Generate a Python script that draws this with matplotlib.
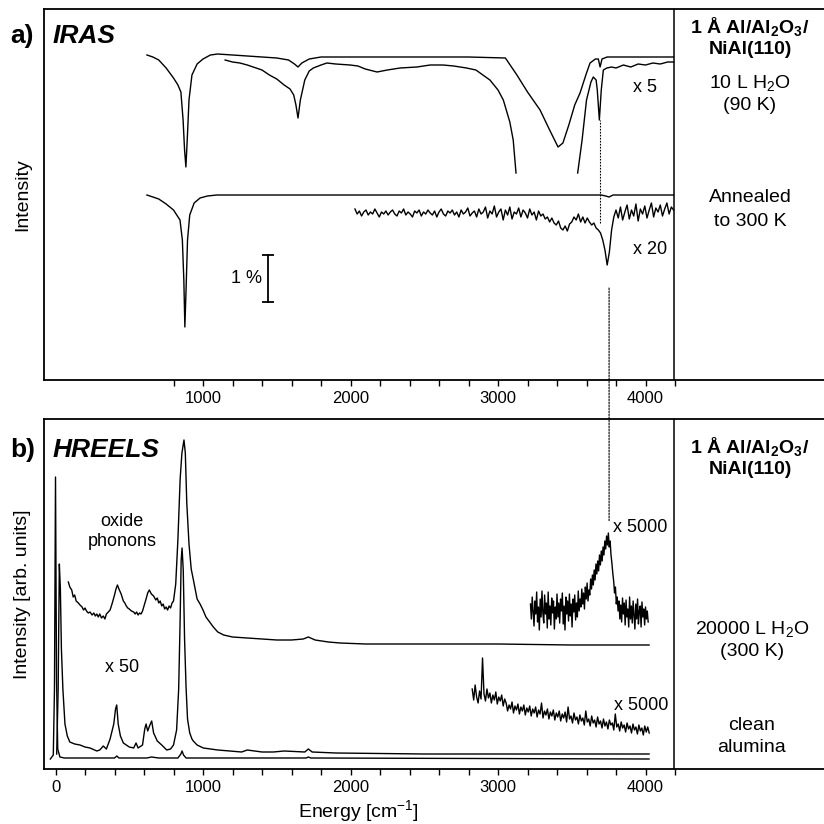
import numpy as np
import matplotlib
matplotlib.use("Agg")
import matplotlib.pyplot as plt
from matplotlib.patches import ConnectionPatch

plt.rcParams['font.family'] = ['Liberation Sans', 'DejaVu Sans']
plt.rcParams['mathtext.fontset'] = 'custom'
plt.rcParams['mathtext.rm'] = 'Liberation Sans'
plt.rcParams['mathtext.bf'] = 'Liberation Sans:bold'

# ---- a) IRAS, intensity in arbitrary units (offset traces) ----
# 10 L H2O at 90 K, as measured
iras_h2o_E = [620, 660, 700, 750, 800, 830, 850, 865, 875, 884, 893, 905, 925, 960, 1000,
              1050, 1100, 1200, 1300, 1400, 1500, 1580, 1620, 1644, 1670, 1720, 1800, 2000,
              2400, 2800, 3050, 3128, 3200, 3285, 3350, 3407, 3440, 3480, 3520, 3556, 3600,
              3624, 3660, 3680, 3692, 3705, 3740, 3800, 4000, 4190]
iras_h2o_I = [325, 323, 320, 312, 302, 295, 288, 260, 230, 213, 240, 280, 305, 316, 321,
              325, 326, 325, 324, 323, 322, 320, 316, 313, 317, 321, 323, 323,
              323, 323, 322, 305, 288, 270, 250, 233, 237, 255, 275, 287, 307,
              317, 321, 321, 313, 321, 323, 323, 323, 323]

# 10 L H2O at 90 K, x5 (two pieces, off scale in between)
iras_x5_E1 = [1150, 1200, 1250, 1300, 1340, 1400, 1450, 1500, 1550, 1590, 1615, 1630, 1644,
              1660, 1690, 1720, 1748, 1800, 1840, 1900, 1997, 2050, 2100, 2180, 2250, 2336,
              2450, 2540, 2627, 2700, 2786, 2850, 2945, 3000, 3036, 3080, 3103, 3122]
iras_x5_I1 = [320, 318, 317, 315, 313, 310, 305, 301, 295, 291, 285, 275, 262,
              280, 300, 309, 312, 315, 317, 316, 315, 314, 311, 308, 310, 312,
              313, 315, 315, 314, 312, 310, 300, 290, 280, 258, 240, 207]
iras_x5_E2 = [3540, 3570, 3600, 3630, 3646, 3665, 3673, 3687, 3700, 3714, 3738, 3770, 3800,
              3850, 3900, 3950, 4000, 4050, 4100, 4150, 4190]
iras_x5_I2 = [207, 240, 280, 298, 303, 300, 290, 260, 290, 310, 312, 313, 312,
              315, 313, 316, 315, 317, 316, 318, 318]

# annealed to 300 K
iras_ann_E = [620, 660, 700, 750, 800, 844, 860, 870, 877, 885, 895, 910, 940, 980, 1030,
              1094, 1500, 2000, 2500, 3000, 3500, 3700, 3730, 3753, 3780, 4190]
iras_ann_I = [185, 183, 181, 176, 170, 160, 140, 100, 53, 90, 140, 165, 177, 182, 184,
              185, 185, 185, 185, 185, 185, 185, 184, 183, 185, 185]

# annealed to 300 K, x20 (start 2030, step 15 cm-1)
iras_x20_start, iras_x20_step = 2030, 15
iras_x20_I = [171, 166, 169, 164, 168, 170, 165, 168, 166, 171, 167, 163, 168, 166, 169,
              165, 168, 170, 166, 164, 169, 167, 171, 165, 168, 166, 163, 169, 167, 170,
              164, 168, 166, 170, 167, 165, 169, 163, 168, 171, 166, 164, 169, 167, 170,
              165, 168, 163, 170, 166, 168, 172, 164, 167, 169, 163, 171, 166, 168, 173,
              162, 169, 166, 174, 163, 168, 171, 160, 170, 165, 173, 161, 168, 166, 172,
              163, 170, 167, 162, 171, 165, 168, 160, 169, 164, 166, 161, 163, 158, 162,
              157, 155, 159, 152, 150, 154, 149, 156, 158, 163, 160, 166, 158, 163, 157,
              162, 158, 155, 157, 152, 150, 147, 140, 130, 115, 128, 150, 163, 170, 162,
              173, 160, 168, 175, 161, 170, 164, 176, 159, 171, 166, 174, 162, 170, 177,
              163, 172, 168, 175, 164, 171, 177, 166, 173, 170]

# ---- b) HREELS ----
# 20000 L H2O at 300 K
hreels_h2o_E = [87, 97, 110, 120, 130, 140, 155, 166, 180, 190, 200, 210, 222, 234, 248, 260,
                270, 280, 290, 300, 312, 324, 335, 345, 358, 370, 385, 400, 410, 420, 430,
                445, 460, 470, 480, 490, 500, 515, 530, 540, 550, 560, 570, 580, 590, 600,
                614, 625, 636, 650, 665, 680, 690, 700, 710, 720, 730, 740, 750, 760, 770,
                780, 790, 800, 815, 830, 845, 857, 871, 880, 890, 905, 920, 935, 960, 980,
                1000, 1020, 1040, 1070, 1100, 1140, 1200, 1300, 1400, 1500, 1600, 1680, 1714,
                1760, 1850, 1929, 2100, 2500, 3000, 3500, 4024]
hreels_h2o_I = [187, 182, 179, 172, 174, 168, 166, 164, 162, 159, 161, 158, 156, 157, 154, 156,
                153, 155, 152, 155, 151, 153, 150, 155, 157, 159, 166, 174, 180, 184, 180,
                175, 168, 166, 163, 161, 160, 158, 157, 155, 157, 154, 156, 155, 158, 163,
                170, 176, 179, 175, 173, 169, 171, 166, 168, 163, 165, 160, 162, 159, 163,
                161, 166, 168, 185, 230, 290, 316, 329, 316, 266, 225, 200, 189, 170, 165,
                159, 152, 148, 142, 137, 134, 132, 131, 130, 129, 129, 130, 132,
                129, 127, 126, 125, 125, 125, 124, 124]

# 20000 L H2O, x5000 (start 3220, step 6 cm-1)
hreels_x5000a_start, hreels_x5000a_step = 3220, 6
hreels_x5000a_I = [165, 150, 172, 158, 143, 168, 155, 177, 147, 162, 139, 170, 152, 178, 156,
                   146, 174, 155, 166, 141, 177, 150, 163, 144, 171, 156, 168, 140, 162, 150,
                   175, 152, 166, 146, 170, 158, 176, 145, 163, 139, 172, 155, 168, 148, 175,
                   153, 165, 142, 170, 157, 174, 149, 166, 152, 178, 158, 170, 162, 180, 165,
                   176, 160, 182, 170, 186, 168, 179, 174, 190, 180, 194, 184, 199, 189, 205,
                   195, 208, 198, 214, 204, 218, 208, 222, 214, 228, 220, 233, 224, 236, 222,
                   228, 214, 206, 196, 188, 176, 182, 165, 172, 158, 168, 150, 164, 147, 171,
                   155, 166, 144, 169, 152, 160, 142, 172, 150, 163, 146, 168, 154, 140, 165,
                   150, 170, 145, 158, 163, 142, 167, 152, 160, 144, 162, 150, 158, 147]

# clean alumina
hreels_clean_E = [-35, -15, -7, 0, 7, 15, 30, 60, 300, 400, 416, 430, 620, 650, 700, 830,
                  850, 858, 868, 885, 1000, 1700, 1714, 1730, 4024]
hreels_clean_I = [10, 14, 80, 292, 90, 20, 12, 11, 11, 11, 13, 11, 11, 12, 11, 11,
                  15, 18, 14, 11, 11, 11, 12, 11, 10]

# clean alumina, x50
hreels_x50_E = [8, 18, 26, 33, 40, 50, 64, 80, 97, 130, 166, 200, 234, 280, 300, 324, 345,
                370, 395, 407, 415, 425, 440, 460, 500, 530, 546, 560, 590, 605, 614, 625,
                640, 652, 665, 690, 720, 754, 780, 800, 821, 835, 845, 852, 858, 866, 875,
                885, 895, 910, 925, 934, 960, 1002, 1100, 1262, 1300, 1400, 1477, 1550, 1690,
                1714, 1740, 1900, 2500, 3000, 3500, 4024]
hreels_x50_I = [15, 80, 205, 180, 120, 80, 45, 33, 27, 25, 24, 22, 21, 18, 19, 23, 20,
                30, 45, 60, 64, 45, 33, 26, 22, 21, 26, 21, 24, 40, 45, 38,
                44, 48, 36, 28, 24, 19, 20, 24, 39, 80, 150, 209, 221, 199, 130,
                82, 50, 36, 30, 28, 24, 21, 19, 17, 19, 17, 17, 18, 17,
                20, 17, 16, 15, 15, 15, 15]

# clean alumina, x5000 (start 2825, step 10 cm-1)
hreels_x5000b_start, hreels_x5000b_step = 2825, 10
hreels_x5000b_I = [80, 69, 84, 72, 66, 78, 70, 111, 75, 68, 80, 71, 76, 66, 74,
                   69, 77, 65, 72, 68, 74, 63, 70, 66, 58, 64, 60, 67, 56, 63,
                   59, 65, 55, 62, 58, 64, 54, 61, 57, 63, 53, 60, 56, 62, 52,
                   59, 55, 66, 51, 58, 54, 60, 50, 57, 53, 59, 49, 56, 52, 58,
                   48, 55, 51, 57, 47, 62, 50, 53, 46, 56, 49, 52, 45, 54, 48,
                   51, 44, 58, 47, 50, 43, 53, 46, 49, 42, 52, 45, 48, 41, 50,
                   43, 47, 40, 49, 44, 46, 39, 55, 42, 45, 38, 47, 41, 44, 37,
                   46, 40, 43, 36, 45, 39, 42, 35, 44, 38, 41, 34, 43, 37, 42,
                   36]

x5_label_E = 3753
divider_E = 4195
scalebar_E, scalebar_lo, scalebar_hi = 1441, 78, 125

W = 824.0
fig = plt.figure(figsize=(8.24, 8.24), dpi=100)
ax_a = fig.add_axes([44 / W, 1 - 380 / W, 780 / W, 371 / W])
ax_b = fig.add_axes([44 / W, 1 - 769 / W, 780 / W, 350 / W])

ka = dict(color='black', lw=1.0)

ax_a.plot(iras_h2o_E, iras_h2o_I, **ka)
ax_a.plot(iras_x5_E1, iras_x5_I1, **ka)
ax_a.plot(iras_x5_E2, iras_x5_I2, **ka)
ax_a.plot(iras_ann_E, iras_ann_I, **ka)
x20_E = iras_x20_start + iras_x20_step * np.arange(len(iras_x20_I))
ax_a.plot(x20_E, iras_x20_I, **ka)

# 1 % scale bar
ax_a.plot([scalebar_E, scalebar_E], [scalebar_lo, scalebar_hi], color='black', lw=1.3,
          marker='_', markersize=9, markeredgewidth=1.3)
ax_a.text(scalebar_E - 40, (scalebar_lo + scalebar_hi) / 2, '1 %', ha='right', va='center',
          fontsize=13)
# dotted marker line (upper)
ax_a.plot([3690, 3690], [157, 260], color='black', lw=0.8, ls=(0, (1.5, 1.2)))

ax_b.plot(hreels_h2o_E, hreels_h2o_I, **ka)
a_E = hreels_x5000a_start + hreels_x5000a_step * np.arange(len(hreels_x5000a_I))
ax_b.plot(a_E, hreels_x5000a_I, **ka)
ax_b.plot(hreels_clean_E, hreels_clean_I, **ka)
ax_b.plot(hreels_x50_E, hreels_x50_I, **ka)
b_E = hreels_x5000b_start + hreels_x5000b_step * np.arange(len(hreels_x5000b_I))
ax_b.plot(b_E, hreels_x5000b_I, **ka)

# dotted line from IRAS to HREELS
con = ConnectionPatch(xyA=(x5_label_E, 92), coordsA=ax_a.transData,
                      xyB=(x5_label_E, 247), coordsB=ax_b.transData,
                      color='black', lw=0.8, ls=(0, (1.5, 1.2)))
fig.add_artist(con)

for ax, ylim, majors, minors in [(ax_a, 371, [1000, 2000, 3000, 4000], np.arange(800, 4201, 200)),
                                 (ax_b, 350, [0, 1000, 2000, 3000, 4000], np.arange(0, 4201, 200))]:
    ax.set_xlim(-78, 5210)
    ax.set_ylim(0, ylim)
    ax.set_yticks([])
    ax.spines['right'].set_visible(False)
    for s in ['top', 'left', 'bottom']:
        ax.spines[s].set_linewidth(1.3)
    ax.axvline(divider_E, color='black', lw=1.1)
    ax.set_xticks(majors)
    ax.set_xticks([m for m in minors if m not in majors], minor=True)
    ax.tick_params(axis='x', which='both', direction='out', length=4, width=1, labelsize=12, pad=4)


def ftext(x, y, s, **kw):
    kw.setdefault('ha', 'center')
    kw.setdefault('va', 'center')
    fig.text(x / W, 1 - y / W, s, **kw)


ftext(10, 43, 'a)', fontsize=19, fontweight='bold', ha='left', va='baseline')
ftext(53, 43, 'IRAS', fontsize=19, fontweight='bold', fontstyle='italic', ha='left', va='baseline')
ftext(10, 457, 'b)', fontsize=19, fontweight='bold', ha='left', va='baseline')
ftext(53, 457, 'HREELS', fontsize=19, fontweight='bold', fontstyle='italic', ha='left', va='baseline')

ftext(750, 27, r'1 Å Al/Al$_\mathbf{2}$O$_\mathbf{3}$/', fontsize=14, fontweight='bold')
ftext(750, 50, 'NiAl(110)', fontsize=14, fontweight='bold')
ftext(750, 84, r'10 L H$_2$O', fontsize=14)
ftext(750, 106, '(90 K)', fontsize=14)
ftext(750, 198, 'Annealed', fontsize=14)
ftext(750, 221, 'to 300 K', fontsize=14)

ftext(750, 447, r'1 Å Al/Al$_\mathbf{2}$O$_\mathbf{3}$/', fontsize=14, fontweight='bold')
ftext(750, 470, 'NiAl(110)', fontsize=14, fontweight='bold')
ftext(752, 630, r'20000 L H$_2$O', fontsize=14)
ftext(752, 652, '(300 K)', fontsize=14)
ftext(752, 725, 'clean', fontsize=14)
ftext(752, 747, 'alumina', fontsize=14)

ftext(645, 88, 'x 5', fontsize=13)
ftext(650, 250, 'x 20', fontsize=13)
ftext(122, 522, 'oxide', fontsize=13)
ftext(122, 542, 'phonons', fontsize=13)
ftext(122, 668, 'x 50', fontsize=13)
ftext(640, 528, 'x 5000', fontsize=13)
ftext(641, 705, 'x 5000', fontsize=13)

ftext(23, 195, 'Intensity', fontsize=14, rotation=90)
ftext(23, 594, 'Intensity [arb. units]', fontsize=14, rotation=90)
ftext(358, 812, r'Energy [cm$^{-1}$]', fontsize=14)

fig.savefig('out.png', dpi=100, facecolor='white')
